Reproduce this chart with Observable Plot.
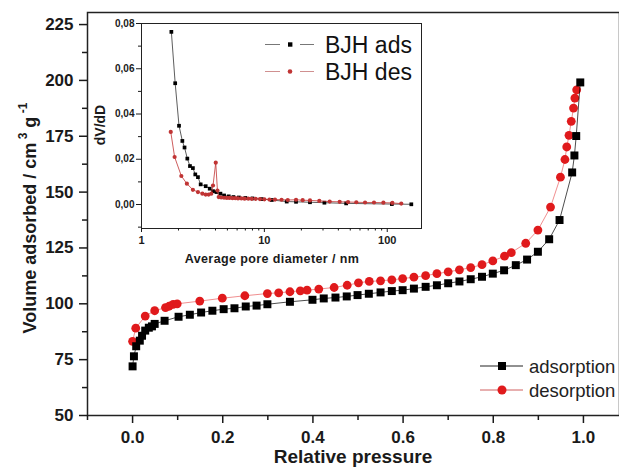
<!DOCTYPE html>
<html><head><meta charset="utf-8">
<script src="https://cdn.jsdelivr.net/npm/d3@7"></script>
<script src="https://cdn.jsdelivr.net/npm/@observablehq/plot@0.6"></script>
<style>
body{margin:0;background:#fff;}
#wrap{position:relative;width:619px;height:468px;overflow:hidden;background:#fff;}
#wrap svg{position:absolute;}
</style></head><body><div id="wrap"></div>
<script>
// ---- Main isotherm data ----
const pAds = [0.0, 0.003, 0.008, 0.016, 0.021, 0.028, 0.036, 0.043, 0.049, 0.071, 0.102, 0.127, 0.152, 0.177, 0.202, 0.226, 0.251, 0.275, 0.299, 0.349, 0.399, 0.424, 0.45, 0.475, 0.499, 0.524, 0.55, 0.575, 0.599, 0.624, 0.65, 0.675, 0.7, 0.725, 0.75, 0.775, 0.799, 0.824, 0.85, 0.875, 0.899, 0.924, 0.947, 0.975, 0.98, 0.984, 0.993];
const vAds = [72, 76.5, 81, 83.5, 85.7, 88, 89.3, 89.9, 91, 92.4, 94.2, 95.1, 96.1, 96.9, 97.6, 98.0, 98.8, 99.2, 99.8, 100.9, 101.8, 102.4, 102.8, 103.3, 103.9, 104.5, 105.1, 105.7, 106.1, 106.8, 107.6, 108.3, 109.2, 110, 111, 112.1, 113.5, 115, 117.3, 119.8, 123.3, 128.9, 137.5, 158.8, 166.4, 175.1, 199.1];
const pDes = [0.0, 0.007, 0.028, 0.049, 0.073, 0.081, 0.09, 0.099, 0.149, 0.199, 0.249, 0.299, 0.324, 0.349, 0.372, 0.387, 0.413, 0.447, 0.476, 0.501, 0.525, 0.55, 0.575, 0.599, 0.624, 0.65, 0.675, 0.7, 0.725, 0.75, 0.775, 0.799, 0.825, 0.84, 0.872, 0.899, 0.927, 0.949, 0.959, 0.963, 0.968, 0.973, 0.978, 0.981, 0.985];
const vDes = [83.2, 89.1, 94.5, 96.9, 98.3, 98.9, 99.7, 100, 101.2, 102.5, 103.6, 104.6, 104.9, 105.4, 105.8, 106.1, 106.6, 107.3, 108.3, 109.4, 110, 110.3, 110.7, 111.3, 111.9, 112.6, 113.5, 114.3, 115.2, 116.2, 117.5, 119.2, 121.3, 122.9, 127.1, 133, 143.3, 156.7, 164.6, 170.2, 175.4, 181.7, 187.6, 192.1, 195.8];

const xMajor = [0, 0.2, 0.4, 0.6, 0.8, 1.0];
const xMinor = [-0.1, 0.1, 0.3, 0.5, 0.7, 0.9];
const yMajor = [50, 75, 100, 125, 150, 175, 200, 225];
const yMinor = [62.5, 87.5, 112.5, 137.5, 162.5, 187.5, 212.5];
const seriesNames = ["adsorption", "desorption"];

// ---- Inset BJH data ----
const dAds = [1.75, 1.88, 2.02, 2.15, 2.24, 2.36, 2.48, 2.62, 2.74, 2.88, 3.03, 3.33, 3.59, 3.82, 4.07, 4.39, 4.70, 5.13, 5.6, 6.2, 7.0, 8.0, 9.5, 11.5, 15.2, 18.1, 23.5, 30.8, 46.3, 109, 157];
const gAds = [0.0763, 0.0536, 0.0348, 0.0281, 0.0252, 0.0203, 0.0170, 0.0161, 0.0133, 0.0121, 0.0089, 0.0081, 0.0070, 0.0059, 0.0055, 0.0048, 0.0040, 0.0036, 0.0033, 0.0031, 0.0029, 0.0027, 0.0024, 0.0020, 0.0013, 0.0012, 0.0010, 0.0008, 0.0005, 0.0002, 0.0001];
const dDes = [1.73, 1.86, 2.11, 2.34, 2.62, 2.88, 3.13, 3.33, 3.52, 3.70, 3.82, 4.02, 4.15, 4.25, 4.45, 4.7, 4.95, 5.2, 5.5, 5.8, 6.1, 6.5, 6.9, 7.4, 7.9, 8.5, 9.2, 10, 11, 12.2, 13.8, 15.5, 18.1, 20.5, 23.5, 28, 34, 41, 48, 56, 66, 78, 93, 110, 130];
const gDes = [0.0321, 0.0210, 0.0126, 0.0092, 0.0065, 0.0055, 0.0048, 0.0044, 0.0044, 0.0048, 0.0084, 0.0185, 0.0062, 0.0033, 0.0031, 0.0030, 0.0029, 0.0029, 0.0028, 0.0028, 0.0027, 0.0027, 0.0026, 0.0026, 0.0025, 0.0025, 0.0024, 0.0023, 0.0022, 0.0022, 0.0021, 0.0020, 0.0021, 0.0019, 0.0018, 0.0016, 0.0013, 0.0012, 0.0011, 0.0010, 0.0009, 0.0009, 0.0008, 0.0007, 0.0004];
const insetXMajor = [1, 10, 100];
const insetXMinor = [2, 3, 4, 5, 6, 7, 8, 9, 20, 30, 40, 50, 60, 70, 80, 90];
const insetYMajor = [0, 0.02, 0.04, 0.06, 0.08];
const insetYMinor = [-0.01, 0.01, 0.03, 0.05, 0.07];
const insetNames = ["BJH ads", "BJH des"];

const FONT = "'Liberation Sans', Arial, Helvetica, sans-serif";
const RED = "#e01a1c";
const IRED = "#c03434";
const INK = "#1a1a1a";

const ads = pAds.map((p, i) => ({p, v: vAds[i]}));
const des = pDes.map((p, i) => ({p, v: vDes[i]}));
const bAds = dAds.map((d, i) => ({d, g: gAds[i]}));
const bDes = dDes.map((d, i) => ({d, g: gDes[i]}));

const wrap = document.getElementById("wrap");

const main = Plot.plot({
  width: 619, height: 468,
  marginLeft: 87, marginRight: 0, marginTop: 12, marginBottom: 53,
  style: {fontFamily: FONT, background: "transparent", color: INK},
  x: {domain: [-0.1, 1.08]},
  y: {domain: [50, 230.4]},
  marks: [
    Plot.frame({stroke: "#222", strokeWidth: 1.5}),
    Plot.axisX({ticks: xMajor, tickSize: 8, tickPadding: 7, tickFormat: d => d.toFixed(1), fontSize: 17, fontWeight: "bold", label: null, strokeWidth: 1.5}),
    Plot.axisX({ticks: xMinor, tickSize: 5, tickFormat: () => "", label: null, strokeWidth: 1.5}),
    Plot.axisY({ticks: yMajor, tickSize: 8, tickPadding: 6, tickFormat: d => String(d), fontSize: 17, fontWeight: "bold", label: null, strokeWidth: 1.5}),
    Plot.axisY({ticks: yMinor, tickSize: 5, tickFormat: () => "", label: null, strokeWidth: 1.5}),
    Plot.line(des, {x: "p", y: "v", stroke: RED, strokeWidth: 0.7, strokeOpacity: 0.7}),
    Plot.dot(des, {x: "p", y: "v", r: 4.4, fill: RED, symbol: "circle"}),
    Plot.line(ads, {x: "p", y: "v", stroke: "#000", strokeWidth: 0.7}),
    Plot.dot(ads, {x: "p", y: "v", r: 4.5, fill: "#000", symbol: "square"})
  ]
});
main.style.left = "0px"; main.style.top = "0px";
wrap.appendChild(main);

const IL = 90, IT = 14;
const inset = Plot.plot({
  width: 340, height: 260,
  marginLeft: 51, marginRight: 9, marginTop: 9, marginBottom: 46,
  style: {fontFamily: FONT, background: "transparent", color: INK},
  x: {type: "log", domain: [1, 190]},
  y: {domain: [-0.0106, 0.08]},
  marks: [
    Plot.frame({stroke: "#222", strokeWidth: 1}),
    Plot.axisX({ticks: insetXMajor, tickSize: 4, tickPadding: 4, tickFormat: d => String(d), fontSize: 11, fontWeight: "bold", label: null}),
    Plot.axisX({ticks: insetXMinor, tickSize: 2.5, tickFormat: () => "", label: null}),
    Plot.axisY({ticks: insetYMajor, tickSize: 5, tickPadding: 2, tickFormat: d => d.toFixed(2).replace(".", ","), fontSize: 10, fontWeight: "bold", label: null}),
    Plot.axisY({ticks: insetYMinor, tickSize: 3, tickFormat: () => "", label: null}),
    Plot.line(bAds, {x: "d", y: "g", stroke: "#333", strokeWidth: 0.8}),
    Plot.dot(bAds, {x: "d", y: "g", r: 2.1, fill: "#000", symbol: "square"}),
    Plot.line(bDes, {x: "d", y: "g", stroke: IRED, strokeWidth: 0.8}),
    Plot.dot(bDes, {x: "d", y: "g", r: 2.1, fill: IRED, symbol: "circle"})
  ]
});
inset.style.left = IL + "px"; inset.style.top = IT + "px";
wrap.appendChild(inset);

// ---- Labels and legends (overlay text) ----
const overlay = d3.select(wrap).append("svg")
  .attr("width", 619).attr("height", 468)
  .style("left", "0px").style("top", "0px")
  .style("font-family", FONT).style("pointer-events", "none");

// y label with superscripts
const yl = overlay.append("text")
  .attr("transform", "translate(36,218) rotate(-90)")
  .attr("text-anchor", "middle")
  .attr("font-size", 18).attr("font-weight", "bold").attr("fill", INK);
yl.append("tspan").text("Volume adsorbed / cm");
yl.append("tspan").attr("dy", -9).attr("font-size", 12).text(" 3");
yl.append("tspan").attr("dy", 9).text(" g");
yl.append("tspan").attr("dy", -9).attr("font-size", 12).text(" -1");

overlay.append("text")
  .attr("x", 353).attr("y", 463).attr("text-anchor", "middle")
  .attr("font-size", 19).attr("font-weight", "bold").attr("fill", INK)
  .text("Relative pressure");

// inset labels
overlay.append("text")
  .attr("transform", "translate(105,125) rotate(-90)")
  .attr("text-anchor", "middle")
  .attr("font-size", 14).attr("font-weight", "bold").attr("fill", INK)
  .text("dV/dD");
overlay.append("text")
  .attr("x", 272).attr("y", 263).attr("text-anchor", "middle")
  .attr("font-size", 12.5).attr("font-weight", "bold").attr("fill", INK)
  .attr("letter-spacing", 0.4)
  .text("Average pore diameter / nm");

// main legend
const mainLeg = [{name: seriesNames[0], color: "#000", line: "#222", sym: "square", y: 366},
                 {name: seriesNames[1], color: RED, line: "#d06060", sym: "circle", y: 390}];
mainLeg.forEach(s => {
  overlay.append("line").attr("x1", 480).attr("x2", 523).attr("y1", s.y).attr("y2", s.y)
    .attr("stroke", s.line).attr("stroke-width", 1);
  if (s.sym === "square") overlay.append("rect").attr("x", 498).attr("y", s.y - 4).attr("width", 8).attr("height", 8).attr("fill", s.color);
  else overlay.append("circle").attr("cx", 502).attr("cy", s.y).attr("r", 4.5).attr("fill", s.color);
  overlay.append("text").attr("x", 529).attr("y", s.y).attr("dy", "0.36em")
    .attr("font-size", 18.5).attr("fill", "#222").text(s.name);
});

// inset legend (line segments with gaps around the marker)
const insLeg = [{name: insetNames[0], color: "#000", line: "#777", sym: "square", y: 44.5},
                {name: insetNames[1], color: IRED, line: "#d09090", sym: "circle", y: 71.5}];
insLeg.forEach(s => {
  overlay.append("line").attr("x1", 265).attr("x2", 280).attr("y1", s.y).attr("y2", s.y)
    .attr("stroke", s.line).attr("stroke-width", 1);
  overlay.append("line").attr("x1", 300).attr("x2", 314).attr("y1", s.y).attr("y2", s.y)
    .attr("stroke", s.line).attr("stroke-width", 1);
  if (s.sym === "square") overlay.append("rect").attr("x", 288).attr("y", s.y - 2.2).attr("width", 4.4).attr("height", 4.4).attr("fill", s.color);
  else overlay.append("circle").attr("cx", 290).attr("cy", s.y).attr("r", 2.3).attr("fill", s.color);
  overlay.append("text").attr("x", 325).attr("y", s.y).attr("dy", "0.36em")
    .attr("font-size", 23).attr("fill", "#111").text(s.name);
});
</script></body></html>
